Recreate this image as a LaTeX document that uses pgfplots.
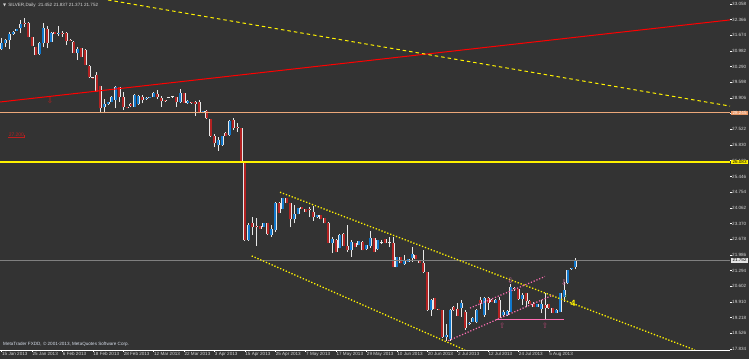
\documentclass[border=0pt]{standalone}
\usepackage{pgfplots}
\pgfplotsset{compat=1.18}
\usepackage{pgfplotstable}
\usepackage{fontspec}
\setmainfont{Liberation Sans}
\newfontfamily\symfont{DejaVu Sans}
\definecolor{bg}{RGB}{51,51,51}
\definecolor{bull}{RGB}{16,120,205}
\definecolor{bear}{RGB}{178,34,34}
\definecolor{wick}{RGB}{232,232,232}
\definecolor{orangeline}{RGB}{236,168,122}
\definecolor{orangebox}{RGB}{232,150,100}
\definecolor{pinkline}{RGB}{255,110,180}
\definecolor{axtext}{RGB}{215,215,215}
\definecolor{grayline}{RGB}{128,128,128}
\definecolor{arrowred}{RGB}{190,30,30}
\definecolor{arrowpink}{RGB}{225,110,170}
\definecolor{arrowmaroon}{RGB}{170,70,110}
\definecolor{arrowgreen}{RGB}{40,110,40}
\definecolor{copytext}{RGB}{215,222,235}
\newcommand\mt{\fontsize{4.6}{5.2}\selectfont}
\pgfplotstableread{
i o h l c
0 31.05 31.54 31.02 31.32
1 31.33 31.51 31.16 31.46
2 31.46 31.83 31.05 31.72
3 31.72 31.86 31.69 31.83
4 31.87 31.97 31.86 31.95
5 31.98 32.35 31.77 32.17
6 32.20 32.42 32.05 32.18
7 32.20 32.24 31.58 31.61
8 31.58 31.60 31.18 31.20
9 31.14 31.16 30.80 30.80
10 30.83 31.39 30.80 31.35
11 31.32 32.23 31.17 31.98
12 31.94 32.08 31.10 31.35
13 31.39 31.82 31.38 31.79
14 31.80 31.82 31.71 31.73
15 31.73 32.08 31.64 31.77
16 31.79 31.86 31.61 31.73
17 31.79 31.83 31.24 31.43
18 31.46 31.49 31.42 31.44
19 31.39 31.40 30.89 30.90
20 30.90 31.17 30.58 31.05
21 31.10 31.11 30.71 30.73
22 31.02 31.07 30.36 30.36
23 30.32 30.34 29.81 29.82
24 29.81 29.83 29.77 29.79
25 29.92 30.07 29.18 29.18
26 29.43 29.43 28.26 28.45
27 28.52 28.87 28.23 28.63
28 28.63 28.69 28.60 28.74
29 28.74 28.99 28.71 28.96
30 28.82 29.43 28.45 29.38
31 29.38 29.38 28.74 28.96
32 28.96 29.18 28.38 28.52
33 28.51 28.53 28.46 28.49
34 28.64 28.69 28.51 28.55
35 28.52 29.08 28.50 29.04
36 28.64 29.04 28.60 28.99
37 28.96 29.04 28.67 28.82
38 28.85 28.95 28.82 28.92
39 28.94 28.97 28.92 28.96
40 28.96 29.17 28.95 29.14
41 29.07 29.26 28.85 28.96
42 28.92 28.99 28.52 28.77
43 28.81 28.82 28.75 28.76
44 28.94 28.96 28.91 28.93
45 28.95 28.97 28.93 28.96
46 28.94 28.96 28.50 28.74
47 28.74 29.29 28.70 29.14
48 29.11 29.13 28.69 28.70
49 28.67 28.80 28.66 28.79
50 28.71 28.73 28.66 28.69
51 28.74 28.79 28.11 28.64
52 28.72 28.82 28.23 28.26
53 28.30 28.35 28.29 28.35
54 28.35 28.36 28.00 28.01
55 27.97 27.98 27.20 27.23
56 27.23 27.32 26.73 26.91
57 26.83 27.17 26.58 27.05
58 26.83 27.25 26.81 27.23
59 27.38 27.39 27.22 27.23
60 27.27 27.94 27.25 27.91
61 27.94 28.01 27.49 27.57
62 27.63 27.82 27.42 27.61
63 27.57 27.58 26.08 26.10
64 26.03 26.04 22.62 22.64
65 22.64 23.39 22.60 23.30
66 23.38 23.67 22.86 23.23
67 23.26 23.60 22.38 23.20
68 23.26 23.28 23.13 23.14
69 23.23 23.41 23.22 23.38
70 23.38 23.41 22.86 22.91
71 22.86 23.30 22.79 23.11
72 23.08 24.33 23.01 24.29
73 24.29 24.32 23.83 23.85
74 24.01 24.49 23.99 24.48
75 24.48 24.50 24.27 24.29
76 24.26 24.29 23.20 23.56
77 23.56 24.19 23.38 23.79
78 23.79 24.05 23.77 24.04
79 24.09 24.10 23.99 24.00
80 24.00 24.01 23.88 23.89
81 23.99 24.09 23.64 23.97
82 23.89 24.14 23.49 23.64
83 23.64 23.76 23.63 23.74
84 23.74 23.76 23.55 23.56
85 23.60 23.61 23.37 23.38
86 23.38 23.44 22.51 22.52
87 22.50 22.79 22.08 22.67
88 22.64 22.69 22.11 22.13
89 22.27 22.89 22.27 22.86
90 22.91 22.93 22.37 22.38
91 22.38 23.30 22.13 22.20
92 22.20 22.64 21.91 22.57
93 22.52 22.53 22.33 22.35
94 22.42 22.62 22.40 22.60
95 22.57 22.58 22.19 22.20
96 22.23 22.44 22.20 22.42
97 22.38 23.05 22.28 22.72
98 22.72 22.73 22.11 22.13
99 22.23 22.66 22.22 22.64
100 22.53 22.64 22.46 22.52
101 22.67 22.69 22.49 22.50
102 22.53 22.79 22.32 22.52
103 22.52 22.79 21.45 21.47
104 21.44 21.91 21.43 21.91
105 21.88 21.89 21.61 21.61
106 21.58 21.98 21.54 21.76
107 21.69 21.80 21.67 21.79
108 21.84 22.35 21.69 22.03
109 21.98 22.00 21.79 21.79
110 21.76 21.78 21.63 21.64
111 21.64 22.20 21.20 21.24
112 21.24 21.25 19.52 19.55
113 19.55 20.03 19.29 19.99
114 20.07 20.08 19.58 19.59
115 19.59 19.60 19.55 19.57
116 19.55 19.57 18.31 18.35
117 18.38 18.94 18.20 18.45
118 18.28 19.59 18.20 19.55
119 19.70 19.73 19.53 19.55
120 19.59 19.85 19.29 19.29
121 19.63 19.99 19.26 19.85
122 19.48 19.55 18.67 18.75
123 18.94 19.03 18.89 19.00
124 19.04 19.25 19.03 19.19
125 19.04 19.59 18.97 19.55
126 19.99 20.14 19.59 19.85
127 19.33 20.14 19.26 20.07
128 20.07 20.14 19.55 19.85
129 19.99 20.02 19.91 19.92
130 19.87 20.02 19.86 19.99
131 19.99 20.14 19.18 19.19
132 19.33 19.55 19.26 19.48
133 19.33 19.55 19.31 19.52
134 19.48 20.70 19.47 20.58
135 20.51 20.57 20.41 20.46
136 20.47 20.48 19.99 20.03
137 20.03 20.29 19.78 20.22
138 20.29 20.32 19.70 19.97
139 19.97 19.98 19.81 19.82
140 19.82 19.91 19.69 19.70
141 19.70 19.84 19.69 19.82
142 19.59 19.99 19.41 19.82
143 19.78 20.29 19.11 19.63
144 19.82 19.84 19.62 19.63
145 19.63 19.64 19.42 19.44
146 19.44 19.58 19.42 19.55
147 19.48 20.29 19.47 20.29
148 20.14 20.80 19.92 20.44
149 20.73 21.34 20.70 21.32
150 21.35 21.41 21.32 21.40
151 21.452 21.837 21.371 21.752
}\candles
\begin{document}
\begin{tikzpicture}
\useasboundingbox (0,0) rectangle (749bp,359bp);
\fill[bg] (0,0) rectangle (749bp,359bp);
\begin{axis}[
  at={(0,9bp)}, anchor=south west,
  scale only axis, width=730bp, height=350bp,
  xmin=-0.447, xmax=191.66, ymin=17.79, ymax=33.229,
  clip mode=individual,
  axis x line*=bottom, axis y line*=right,
  x axis line style={draw=white, line width=0.8bp},
  y axis line style={draw=none},
  xtick={0,8,...,144},
  xticklabels={15 Jan 2013, 25 Jan 2013, 6 Feb 2013, 18 Feb 2013, 28 Feb 2013, 12 Mar 2013, 22 Mar 2013, 3 Apr 2013, 15 Apr 2013, 25 Apr 2013, 7 May 2013, 17 May 2013, 29 May 2013, 10 Jun 2013, 20 Jun 2013, 2 Jul 2013, 12 Jul 2013, 24 Jul 2013, 5 Aug 2013},
  ytick={17.834,18.526,19.218,19.910,20.602,21.294,21.986,22.678,23.370,24.062,24.754,25.446,26.138,26.830,27.522,28.214,28.906,29.598,30.290,30.982,31.674,32.366,33.058},
  tick align=outside, major tick length=1.6bp,
  tick style={draw=white, line width=0.5bp},
  x tick label style={anchor=north west, font=\mt, text=axtext, inner sep=0pt, xshift=0.3bp, yshift=-0.6bp},
  y tick label style={anchor=west, font=\mt, text=axtext, inner sep=0pt, xshift=0.4bp},
  /pgf/number format/fixed, /pgf/number format/fixed zerofill, /pgf/number format/precision=3,
  /pgf/number format/assume math mode=true,
  scaled y ticks=false,
]
% wicks
\addplot[forget plot, draw=none, mark=none,
  error bars/.cd, y dir=plus, y explicit, error mark=none,
  error bar style={draw=wick, line width=0.9bp}]
  table[x=i, y=l, y error expr={\thisrow{h}-\thisrow{l}}]{\candles};
% body outline
\addplot[forget plot, draw=none, mark=none,
  error bars/.cd, y dir=plus, y explicit, error mark=none,
  error bar style={draw=wick, line width=3bp}]
  table[x=i, y expr={min(\thisrow{o},\thisrow{c})}, y error expr={max(abs(\thisrow{c}-\thisrow{o}),0.03)}]{\candles};
% bull bodies
\addplot[forget plot, draw=none, mark=none,
  restrict expr to domain={\thisrow{c}-\thisrow{o}}{0.02:100},
  error bars/.cd, y dir=plus, y explicit, error mark=none,
  error bar style={draw=bull, line width=2bp}]
  table[x=i, y=o, y error expr={\thisrow{c}-\thisrow{o}}]{\candles};
% bear bodies
\addplot[forget plot, draw=none, mark=none,
  restrict expr to domain={\thisrow{o}-\thisrow{c}}{0.02:100},
  error bars/.cd, y dir=plus, y explicit, error mark=none,
  error bar style={draw=bear, line width=2bp}]
  table[x=i, y=c, y error expr={\thisrow{o}-\thisrow{c}}]{\candles};
% horizontal levels
\addplot[forget plot, orangeline, line width=1bp] coordinates {(-0.447,28.245) (191.66,28.245)};
\addplot[forget plot, yellow, line width=1.4bp] coordinates {(-0.447,26.083) (191.66,26.083)};
\addplot[forget plot, grayline, line width=1bp] coordinates {(-0.447,21.752) (191.66,21.752)};
% trend lines
\addplot[forget plot, red, line width=1bp] coordinates {(-0.447,28.73) (191.66,32.35)};
\addplot[forget plot, yellow, line width=1bp, dash pattern=on 3.5bp off 3bp] coordinates {(27.97,33.23) (191.66,28.55)};
\addplot[forget plot, yellow, line width=1.3bp, dash pattern=on 1.3bp off 1.8bp] coordinates {(73.24,24.75) (182.45,17.79)};
\addplot[forget plot, yellow, line width=1.3bp, dash pattern=on 1.3bp off 1.8bp] coordinates {(65.79,21.94) (121.92,17.79)};
\addplot[forget plot, pinkline, line width=1.2bp, dash pattern=on 1.2bp off 1.8bp] coordinates {(117.53,18.20) (145.16,20.22)};
\addplot[forget plot, pinkline, line width=1.2bp, dash pattern=on 1.2bp off 1.8bp] coordinates {(123.24,19.64) (142.97,21.03)};
\addplot[forget plot, pinkline, line width=1bp] coordinates {(130.08,19.14) (147.97,19.14)};
% arrows
\addplot[forget plot, draw=none, mark=none, nodes near coords={\symfont ⇩},
  every node near coord/.append style={anchor=center, text=arrowred, font=\fontsize{7.5}{8}\selectfont, inner sep=0pt}]
  coordinates {(12.7,28.80)};
\addplot[forget plot, draw=none, mark=none, nodes near coords={\symfont ⇩},
  every node near coord/.append style={anchor=center, text=arrowpink, font=\fontsize{7.5}{8}\selectfont, inner sep=0pt}]
  coordinates {(133.9,20.83) (147.97,20.74)};
\addplot[forget plot, draw=none, mark=none, nodes near coords={\symfont ⇧},
  every node near coord/.append style={anchor=center, text=arrowmaroon, font=\fontsize{7.5}{8}\selectfont, inner sep=0pt}]
  coordinates {(131.7,18.85) (143.0,18.85)};
\addplot[forget plot, draw=none, mark=none, nodes near coords={\symfont ⇧},
  every node near coord/.append style={anchor=center, text=arrowgreen, font=\fontsize{6}{6}\selectfont, inner sep=0pt}]
  coordinates {(148.6,20.10)};
% texts
\node[anchor=center, text=yellow, font=\fontsize{9}{9}\selectfont\bfseries, inner sep=0pt] at (axis cs:150.4,19.86) {4};
\node[anchor=west, text=axtext, font=\mt, inner sep=0pt, xshift=3bp, yshift=-5.5bp] at (rel axis cs:0,1) {{\symfont\fontsize{4}{4}\selectfont ▼}\, SILVER,Daily\ \ 21.452 21.837 21.371 21.752};
\node[anchor=south west, text=copytext, font=\mt, inner sep=0pt, xshift=3bp, yshift=3bp] at (rel axis cs:0,0) {MetaTrader FXDD, © 2001-2013, MetaQuotes Software Corp.};
\node[anchor=south west, text=arrowred, font=\fontsize{5}{5}\selectfont, inner sep=0.4bp] (lbl) at (axis cs:1.7,27.17) {27.200};
\draw[arrowred, line width=0.6bp] (lbl.south west) -- (lbl.south east) -- ([yshift=2.6bp]lbl.south east);
% price boxes
\node[anchor=west, fill=orangebox, text=white, font=\mt, inner sep=0.8bp, minimum width=17.5bp, xshift=0.6bp] at (axis cs:191.66,28.245) {28.245};
\node[anchor=west, fill=yellow, text=black, font=\mt, inner sep=0.8bp, minimum width=17.5bp, xshift=0.6bp] at (axis cs:191.66,26.083) {26.083};
\node[anchor=west, fill=white!80!gray, text=black, font=\mt, inner sep=0.8bp, minimum width=17.5bp, xshift=0.6bp] at (axis cs:191.66,21.752) {21.752};
\end{axis}
\end{tikzpicture}
\end{document}
